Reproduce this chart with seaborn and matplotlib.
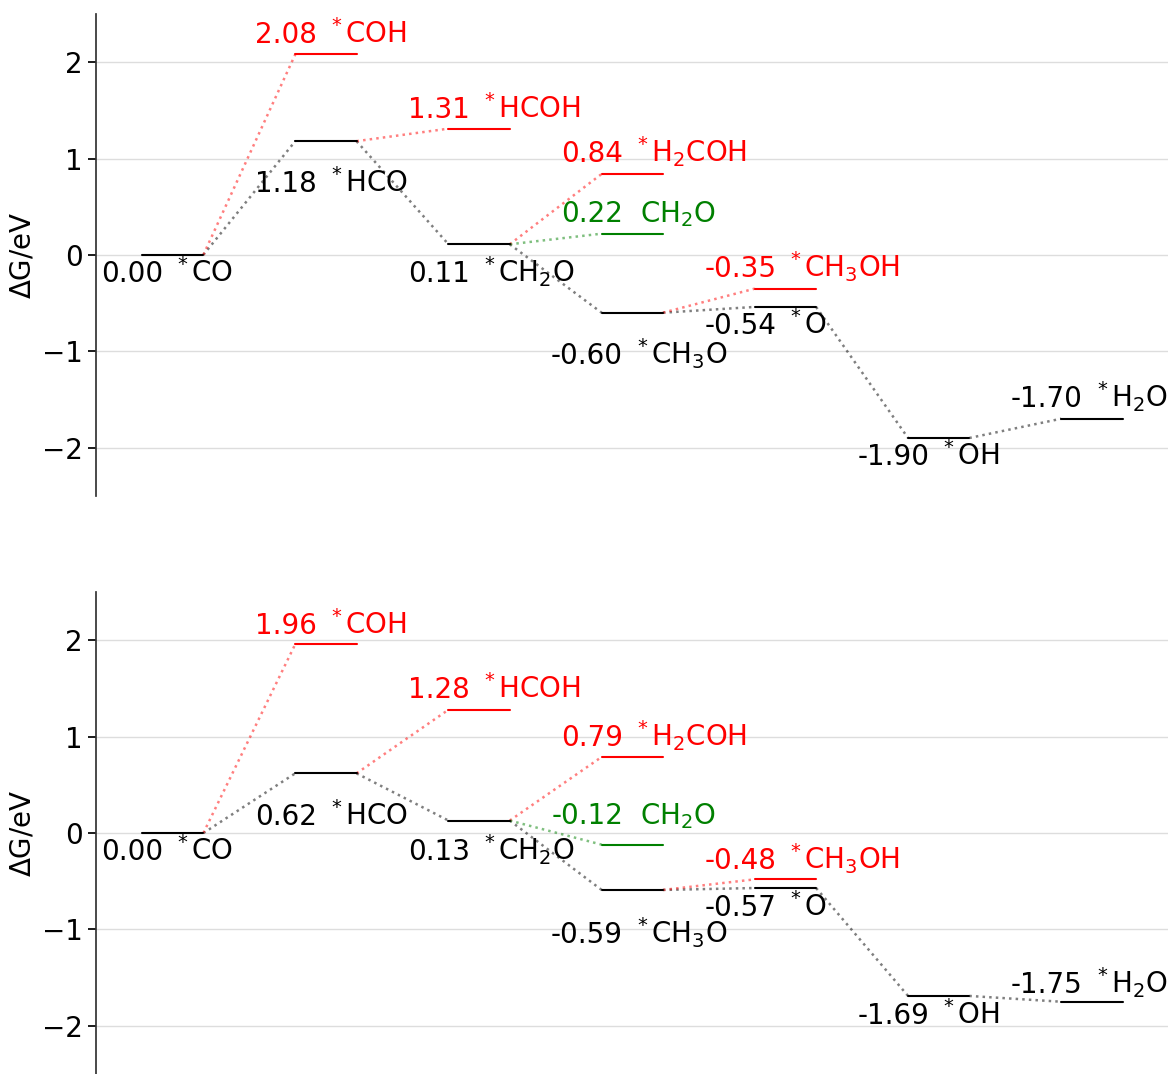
import numpy as np
import pandas as pd
import matplotlib
matplotlib.use('Agg')
import matplotlib.pyplot as plt
import seaborn as sns

# main pathway (black)
main_species = [r'$^*$CO', r'$^*$HCO', r'$^*$CH$_2$O', r'$^*$CH$_3$O',
                r'$^*$O', r'$^*$OH', r'$^*$H$_2$O']
main_top = [0.00, 1.18, 0.11, -0.60, -0.54, -1.90, -1.70]
main_bottom = [0.00, 0.62, 0.13, -0.59, -0.57, -1.69, -1.75]

# side branches
branch_species = [r'$^*$COH', r'$^*$HCOH', r'$^*$H$_2$COH', r'CH$_2$O', r'$^*$CH$_3$OH']
branch_step = [1, 2, 3, 3, 4]
branch_from = [0, 1, 2, 2, 3]
branch_color = ['red', 'red', 'red', 'green', 'red']
branch_top = [2.08, 1.31, 0.84, 0.22, -0.35]
branch_bottom = [1.96, 1.28, 0.79, -0.12, -0.48]

# label baseline offsets from the level (eV)
main_dy_top = [-0.28, -0.53, -0.39, -0.53, -0.28, -0.28, 0.12]
main_dy_bottom = [-0.28, -0.54, -0.41, -0.55, -0.29, -0.29, 0.09]
branch_dy_top = [0.12, 0.11, 0.12, 0.12, 0.12]
branch_dy_bottom = [0.11, 0.12, 0.11, 0.21, 0.11]

W = 0.4  # level width
FS = 20
palette = {'black': 'black', 'red': 'red', 'green': 'green'}


def put_label(ax, x, y, v, name, color):
    ax.text(x + 0.14, y, '%.2f' % v, ha='right', va='baseline', fontsize=FS, color=color)
    # mathtext superscript brings its own lead-in space
    nx = x + (0.205 if name.startswith('$^*$') else 0.25)
    ax.text(nx, y, name, ha='left', va='baseline', fontsize=FS, color=color)


def draw_panel(ax, main, branch, mdy, bdy):
    # levels
    rows = []
    for i, v in enumerate(main):
        rows += [('m%d' % i, i, v, 'black'), ('m%d' % i, i + W, v, 'black')]
    for k, (s, v, c) in enumerate(zip(branch_step, branch, branch_color)):
        rows += [('b%d' % k, s, v, c), ('b%d' % k, s + W, v, c)]
    levels = pd.DataFrame(rows, columns=['seg', 'x', 'y', 'color'])

    # connectors
    rows = []
    for i in range(1, len(main)):
        rows += [('l%d' % i, i - 1 + W, main[i - 1], 'black'), ('l%d' % i, i, main[i], 'black')]
    for k, (s, f, v, c) in enumerate(zip(branch_step, branch_from, branch, branch_color)):
        rows += [('c%d' % k, f + W, main[f], c), ('c%d' % k, s, v, c)]
    links = pd.DataFrame(rows, columns=['seg', 'x', 'y', 'color'])

    sns.lineplot(data=links, x='x', y='y', units='seg', hue='color', palette=palette,
                 estimator=None, sort=False, linestyle=':', lw=1.8, alpha=0.5,
                 legend=False, ax=ax)
    sns.lineplot(data=levels, x='x', y='y', units='seg', hue='color', palette=palette,
                 estimator=None, sort=False, lw=1.5, legend=False, ax=ax)

    for i, (v, name, dy) in enumerate(zip(main, main_species, mdy)):
        put_label(ax, i, v + dy, v, name, 'black')
    for s, v, name, c, dy in zip(branch_step, branch, branch_species, branch_color, bdy):
        put_label(ax, s, v + dy, v, name, c)

    ax.set_xlim(-0.3, 6.7)
    ax.set_ylim(-2.5, 2.5)
    ax.set_yticks([-2, -1, 0, 1, 2])
    ax.set_xticks([])
    ax.set_xlabel('')
    ax.set_ylabel(r'$\Delta$G/eV', fontsize=FS, color='black')
    ax.tick_params(axis='y', labelsize=FS, colors='black')
    ax.yaxis.grid(True, color='#dddddd', lw=1)
    ax.set_axisbelow(True)
    ax.spines['left'].set_color('#333333')
    for side in ['top', 'right', 'bottom']:
        ax.spines[side].set_visible(False)


sns.set_theme(style='ticks')
plt.rcParams['text.color'] = 'black'
fig, axes = plt.subplots(2, 1, figsize=(11.72, 10.74), dpi=100)
fig.subplots_adjust(left=0.082, right=0.997, top=0.987, bottom=0.0, hspace=0.2)

draw_panel(axes[0], main_top, branch_top, main_dy_top, branch_dy_top)
draw_panel(axes[1], main_bottom, branch_bottom, main_dy_bottom, branch_dy_bottom)

fig.savefig('out.png', dpi=100)
